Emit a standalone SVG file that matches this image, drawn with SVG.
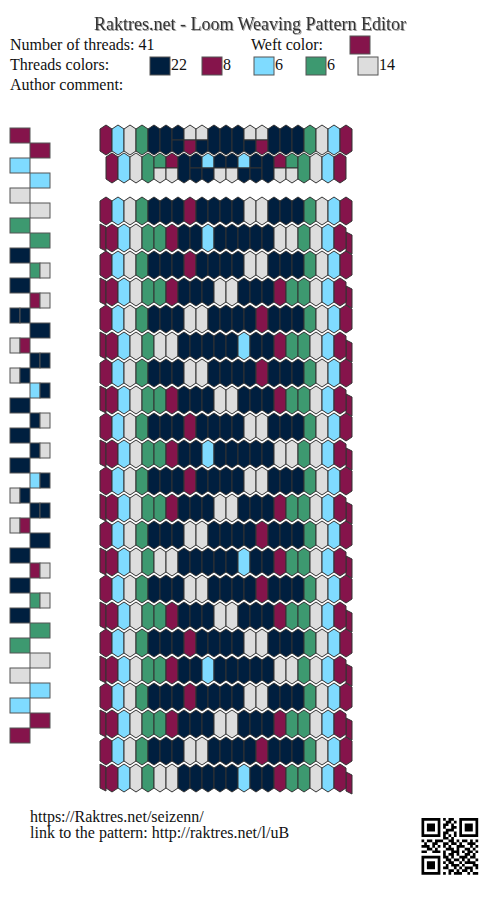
<svg xmlns="http://www.w3.org/2000/svg" xmlns:xlink="http://www.w3.org/1999/xlink" width="500" height="897" viewBox="0 0 500 897">
<style>
.M{fill:#85144b}.B{fill:#7fdbff}.L{fill:#dddddd}.G{fill:#3d9970}.N{fill:#001f3f}
.sw{stroke:#555;stroke-width:1}
.t{font-family:"Liberation Serif","Times New Roman",serif;fill:#111}
</style>
<defs>
<filter id="sh" x="-5%" y="-30%" width="110%" height="160%"><feDropShadow dx="1" dy="1" stdDeviation="0.6" flood-color="#888" flood-opacity="0.8"/></filter>
<path id="h" d="M0,0l6,4v20l-6,4l-6,-4v-20z" stroke="#333" stroke-width="1"/>
<path id="hp" d="M0,0l6,4v22l-6,4l-6,-4v-22z" stroke="#333" stroke-width="1"/>
<path id="ht" d="M0,0l6,4v11h-12v-11z" stroke="#333" stroke-width="1"/>
<path id="hb" d="M-6,15h12v11l-6,4l-6,-4z" stroke="#333" stroke-width="1"/>
<polygon id="wl" points="100,0 106,3 106,27 100,24" stroke="#333" stroke-width="1"/>
<polygon id="wr" points="346,8 352,11 352,30 346,27" stroke="#333" stroke-width="1"/>
<g id="rA">
<use href="#h" x="106" class="M"/><use href="#h" x="118" class="B"/><use href="#h" x="130" class="L"/><use href="#h" x="142" class="G"/><use href="#h" x="154" class="N"/><use href="#h" x="166" class="N"/><use href="#h" x="178" class="N"/><use href="#h" x="190" class="M"/><use href="#h" x="202" class="N"/><use href="#h" x="214" class="N"/><use href="#h" x="226" class="N"/><use href="#h" x="238" class="N"/><use href="#h" x="250" class="L"/><use href="#h" x="262" class="L"/><use href="#h" x="274" class="N"/><use href="#h" x="286" class="N"/><use href="#h" x="298" class="N"/><use href="#h" x="310" class="G"/><use href="#h" x="322" class="L"/><use href="#h" x="334" class="B"/><use href="#h" x="346" class="M"/>
</g>
<g id="rB">
<use href="#h" x="106" class="M"/><use href="#h" x="118" class="B"/><use href="#h" x="130" class="L"/><use href="#h" x="142" class="G"/><use href="#h" x="154" class="N"/><use href="#h" x="166" class="N"/><use href="#h" x="178" class="N"/><use href="#h" x="190" class="L"/><use href="#h" x="202" class="L"/><use href="#h" x="214" class="N"/><use href="#h" x="226" class="N"/><use href="#h" x="238" class="N"/><use href="#h" x="250" class="N"/><use href="#h" x="262" class="M"/><use href="#h" x="274" class="N"/><use href="#h" x="286" class="N"/><use href="#h" x="298" class="N"/><use href="#h" x="310" class="G"/><use href="#h" x="322" class="L"/><use href="#h" x="334" class="B"/><use href="#h" x="346" class="M"/>
</g>
<g id="r1">
<use href="#wl" class="M"/><use href="#wr" class="M"/>
<use href="#h" x="112" class="M"/><use href="#h" x="124" class="B"/><use href="#h" x="136" class="L"/><use href="#h" x="148" class="G"/><use href="#h" x="160" class="G"/><use href="#h" x="172" class="M"/><use href="#h" x="184" class="N"/><use href="#h" x="196" class="N"/><use href="#h" x="208" class="B"/><use href="#h" x="220" class="N"/><use href="#h" x="232" class="N"/><use href="#h" x="244" class="N"/><use href="#h" x="256" class="N"/><use href="#h" x="268" class="N"/><use href="#h" x="280" class="L"/><use href="#h" x="292" class="L"/><use href="#h" x="304" class="G"/><use href="#h" x="316" class="L"/><use href="#h" x="328" class="B"/><use href="#h" x="340" class="M"/>
</g>
<g id="r3">
<use href="#wl" class="M"/><use href="#wr" class="M"/>
<use href="#h" x="112" class="M"/><use href="#h" x="124" class="B"/><use href="#h" x="136" class="L"/><use href="#h" x="148" class="G"/><use href="#h" x="160" class="G"/><use href="#h" x="172" class="M"/><use href="#h" x="184" class="N"/><use href="#h" x="196" class="N"/><use href="#h" x="208" class="N"/><use href="#h" x="220" class="L"/><use href="#h" x="232" class="L"/><use href="#h" x="244" class="N"/><use href="#h" x="256" class="N"/><use href="#h" x="268" class="N"/><use href="#h" x="280" class="M"/><use href="#h" x="292" class="G"/><use href="#h" x="304" class="G"/><use href="#h" x="316" class="L"/><use href="#h" x="328" class="B"/><use href="#h" x="340" class="M"/>
</g>
<g id="r5">
<use href="#wl" class="M"/><use href="#wr" class="M"/>
<use href="#h" x="112" class="M"/><use href="#h" x="124" class="B"/><use href="#h" x="136" class="L"/><use href="#h" x="148" class="G"/><use href="#h" x="160" class="L"/><use href="#h" x="172" class="L"/><use href="#h" x="184" class="N"/><use href="#h" x="196" class="N"/><use href="#h" x="208" class="N"/><use href="#h" x="220" class="N"/><use href="#h" x="232" class="N"/><use href="#h" x="244" class="B"/><use href="#h" x="256" class="N"/><use href="#h" x="268" class="N"/><use href="#h" x="280" class="M"/><use href="#h" x="292" class="G"/><use href="#h" x="304" class="G"/><use href="#h" x="316" class="L"/><use href="#h" x="328" class="B"/><use href="#h" x="340" class="M"/>
</g>
</defs>
<rect width="500" height="897" fill="#fff"/>

<g id="header">
<text class="t" x="250" y="30" font-size="18" text-anchor="middle" filter="url(#sh)" style="fill:#333">Raktres.net - Loom Weaving Pattern Editor</text>
<text class="t" x="10" y="50" font-size="16">Number of threads: 41</text>
<text class="t" x="251" y="50" font-size="16">Weft color:</text>
<rect x="350" y="36" width="20" height="18" class="M sw"/>
<text class="t" x="10" y="70" font-size="16">Threads colors:</text>
<rect x="150" y="57" width="20" height="18" class="N sw"/><text class="t" x="171" y="70" font-size="16">22</text>
<rect x="202" y="57" width="20" height="18" class="M sw"/><text class="t" x="223" y="70" font-size="16">8</text>
<rect x="254" y="57" width="20" height="18" class="B sw"/><text class="t" x="275" y="70" font-size="16">6</text>
<rect x="306" y="57" width="20" height="18" class="G sw"/><text class="t" x="327" y="70" font-size="16">6</text>
<rect x="358" y="57" width="20" height="18" class="L sw"/><text class="t" x="379" y="70" font-size="16">14</text>
<text class="t" x="10" y="90" font-size="16">Author comment:</text>
</g>

<g id="threading" class="sw">
<rect x="10" y="128" width="20" height="15" class="M"/>
<rect x="30" y="143" width="20" height="15" class="M"/>
<rect x="10" y="158" width="20" height="15" class="B"/>
<rect x="30" y="173" width="20" height="15" class="B"/>
<rect x="10" y="188" width="20" height="15" class="L"/>
<rect x="30" y="203" width="20" height="15" class="L"/>
<rect x="10" y="218" width="20" height="15" class="G"/>
<rect x="30" y="233" width="20" height="15" class="G"/>
<rect x="10" y="248" width="20" height="15" class="N"/>
<rect x="30" y="263" width="10" height="15" class="G"/><rect x="40" y="263" width="10" height="15" class="L"/>
<rect x="10" y="278" width="20" height="15" class="N"/>
<rect x="30" y="293" width="10" height="15" class="M"/><rect x="40" y="293" width="10" height="15" class="L"/>
<rect x="10" y="308" width="10" height="15" class="N"/><rect x="20" y="308" width="10" height="15" class="N"/>
<rect x="30" y="323" width="20" height="15" class="N"/>
<rect x="10" y="338" width="10" height="15" class="L"/><rect x="20" y="338" width="10" height="15" class="M"/>
<rect x="30" y="353" width="10" height="15" class="N"/><rect x="40" y="353" width="10" height="15" class="N"/>
<rect x="10" y="368" width="10" height="15" class="L"/><rect x="20" y="368" width="10" height="15" class="N"/>
<rect x="30" y="383" width="10" height="15" class="B"/><rect x="40" y="383" width="10" height="15" class="N"/>
<rect x="10" y="398" width="20" height="15" class="N"/>
<rect x="30" y="413" width="10" height="15" class="N"/><rect x="40" y="413" width="10" height="15" class="L"/>
<rect x="10" y="428" width="20" height="15" class="N"/>
<rect x="30" y="443" width="10" height="15" class="N"/><rect x="40" y="443" width="10" height="15" class="L"/>
<rect x="10" y="458" width="20" height="15" class="N"/>
<rect x="30" y="473" width="10" height="15" class="B"/><rect x="40" y="473" width="10" height="15" class="N"/>
<rect x="10" y="488" width="10" height="15" class="L"/><rect x="20" y="488" width="10" height="15" class="N"/>
<rect x="30" y="503" width="10" height="15" class="N"/><rect x="40" y="503" width="10" height="15" class="N"/>
<rect x="10" y="518" width="10" height="15" class="L"/><rect x="20" y="518" width="10" height="15" class="M"/>
<rect x="30" y="533" width="20" height="15" class="N"/>
<rect x="10" y="548" width="20" height="15" class="N"/>
<rect x="30" y="563" width="10" height="15" class="M"/><rect x="40" y="563" width="10" height="15" class="L"/>
<rect x="10" y="578" width="20" height="15" class="N"/>
<rect x="30" y="593" width="10" height="15" class="G"/><rect x="40" y="593" width="10" height="15" class="L"/>
<rect x="10" y="608" width="20" height="15" class="N"/>
<rect x="30" y="623" width="20" height="15" class="G"/>
<rect x="10" y="638" width="20" height="15" class="G"/>
<rect x="30" y="653" width="20" height="15" class="L"/>
<rect x="10" y="668" width="20" height="15" class="L"/>
<rect x="30" y="683" width="20" height="15" class="B"/>
<rect x="10" y="698" width="20" height="15" class="B"/>
<rect x="30" y="713" width="20" height="15" class="M"/>
<rect x="10" y="728" width="20" height="15" class="M"/>
</g>

<g id="preview">
<g transform="translate(0,125)">
<use href="#hp" x="106" class="M"/><use href="#hp" x="118" class="B"/><use href="#hp" x="130" class="L"/><use href="#hp" x="142" class="G"/><use href="#hp" x="154" class="N"/><use href="#hp" x="166" class="N"/>
<use href="#ht" x="178" class="N"/><use href="#hb" x="178" class="N"/>
<use href="#ht" x="190" class="L"/><use href="#hb" x="190" class="M"/>
<use href="#ht" x="202" class="L"/><use href="#hb" x="202" class="N"/>
<use href="#hp" x="214" class="N"/><use href="#hp" x="226" class="N"/><use href="#hp" x="238" class="N"/>
<use href="#ht" x="250" class="L"/><use href="#hb" x="250" class="N"/>
<use href="#ht" x="262" class="L"/><use href="#hb" x="262" class="M"/>
<use href="#hp" x="274" class="N"/><use href="#hp" x="286" class="N"/><use href="#hp" x="298" class="N"/><use href="#hp" x="310" class="G"/><use href="#hp" x="322" class="L"/><use href="#hp" x="334" class="B"/><use href="#hp" x="346" class="M"/>
</g>
<g transform="translate(0,153)">
<use href="#hp" x="112" class="M"/><use href="#hp" x="124" class="B"/><use href="#hp" x="136" class="L"/><use href="#hp" x="148" class="G"/>
<use href="#ht" x="160" class="G"/><use href="#hb" x="160" class="L"/>
<use href="#ht" x="172" class="M"/><use href="#hb" x="172" class="L"/>
<use href="#hp" x="184" class="N"/>
<use href="#ht" x="196" class="N"/><use href="#hb" x="196" class="N"/>
<use href="#ht" x="208" class="B"/><use href="#hb" x="208" class="N"/>
<use href="#ht" x="220" class="N"/><use href="#hb" x="220" class="L"/>
<use href="#ht" x="232" class="N"/><use href="#hb" x="232" class="L"/>
<use href="#ht" x="244" class="B"/><use href="#hb" x="244" class="N"/>
<use href="#ht" x="256" class="N"/><use href="#hb" x="256" class="N"/>
<use href="#hp" x="268" class="N"/>
<use href="#ht" x="280" class="M"/><use href="#hb" x="280" class="L"/>
<use href="#ht" x="292" class="G"/><use href="#hb" x="292" class="L"/>
<use href="#hp" x="304" class="G"/><use href="#hp" x="316" class="L"/><use href="#hp" x="328" class="B"/><use href="#hp" x="340" class="M"/>
</g>
</g>

<g id="pattern">
<use href="#rA" y="197"/>
<use href="#r1" y="224"/>
<use href="#rA" y="251"/>
<use href="#r3" y="278"/>
<use href="#rB" y="305"/>
<use href="#r5" y="332"/>
<use href="#rB" y="359"/>
<use href="#r3" y="386"/>
<use href="#rA" y="413"/>
<use href="#r1" y="440"/>
<use href="#rA" y="467"/>
<use href="#r3" y="494"/>
<use href="#rB" y="521"/>
<use href="#r5" y="548"/>
<use href="#rB" y="575"/>
<use href="#r3" y="602"/>
<use href="#rA" y="629"/>
<use href="#r1" y="656"/>
<use href="#rA" y="683"/>
<use href="#r3" y="710"/>
<use href="#rB" y="737"/>
<use href="#r5" y="764"/>
</g>

<g id="footer">
<text class="t" x="30" y="822" font-size="16">https://Raktres.net/seizenn/</text>
<text class="t" x="30" y="838" font-size="16">link to the pattern: http://raktres.net/l/uB</text>
</g>

<g id="qr" transform="translate(421.5,818) scale(2.7)" fill="#000">
<path fill-rule="evenodd" d="M0 0h7v7h-7z M1 1v5h5v-5z M2 2h3v3h-3z M14 0h7v7h-7z M15 1v5h5v-5z M16 2h3v3h-3z M0 14h7v7h-7z M1 15v5h5v-5z M2 16h3v3h-3z"/>
<path d="M8 0h1v1h-1z M10 0h2v1h-2z M9 1h2v1h-2z M12 1h1v1h-1z M8 2h2v1h-2z M11 2h1v1h-1z M8 3h1v1h-1z M11 3h2v1h-2z M9 4h3v1h-3z M8 5h2v1h-2z M12 5h1v1h-1z M8 6h1v1h-1z M10 6h1v1h-1z M12 6h1v1h-1z M8 7h2v1h-2z M11 7h1v1h-1z
M0 8h1v1h-1z M2 8h2v1h-2z M5 8h3v1h-3z M10 8h2v1h-2z M13 8h1v1h-1z M15 8h2v1h-2z M18 8h1v1h-1z M20 8h1v1h-1z
M1 9h1v1h-1z M4 9h2v1h-2z M8 9h2v1h-2z M11 9h2v1h-2z M14 9h1v1h-1z M17 9h3v1h-3z
M0 10h3v1h-3z M4 10h1v1h-1z M6 10h1v1h-1z M8 10h1v1h-1z M10 10h1v1h-1z M13 10h3v1h-3z M18 10h1v1h-1z M20 10h1v1h-1z
M2 11h2v1h-2z M5 11h1v1h-1z M9 11h3v1h-3z M13 11h1v1h-1z M16 11h2v1h-2z M19 11h1v1h-1z
M0 12h2v1h-2z M4 12h3v1h-3z M8 12h1v1h-1z M11 12h3v1h-3z M15 12h1v1h-1z M17 12h2v1h-2z M20 12h1v1h-1z
M8 13h1v1h-1z M10 13h2v1h-2z M13 13h1v1h-1z M16 13h2v1h-2z M19 13h1v1h-1z
M8 14h2v1h-2z M11 14h1v1h-1z M14 14h3v1h-3z M18 14h2v1h-2z
M9 15h2v1h-2z M12 15h2v1h-2z M15 15h1v1h-1z M17 15h1v1h-1z M20 15h1v1h-1z
M8 16h1v1h-1z M10 16h2v1h-2z M14 16h1v1h-1z M16 16h4v1h-4z
M9 17h1v1h-1z M11 17h3v1h-3z M15 17h1v1h-1z M19 17h2v1h-2z
M8 18h2v1h-2z M12 18h1v1h-1z M14 18h1v1h-1z M16 18h3v1h-3z M20 18h1v1h-1z
M10 19h2v1h-2z M13 19h1v1h-1z M15 19h2v1h-2z M18 19h1v1h-1z
M8 20h1v1h-1z M10 20h1v1h-1z M12 20h3v1h-3z M17 20h1v1h-1z M19 20h2v1h-2z"/>
</g>
</svg>
